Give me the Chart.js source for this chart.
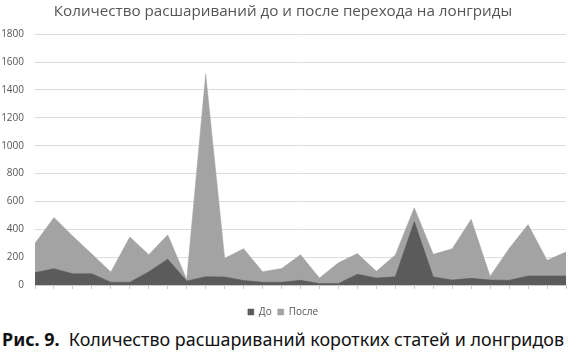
<!DOCTYPE html>
<html>
<head>
<meta charset="utf-8">
<script src="https://cdn.jsdelivr.net/npm/chart.js@4/dist/chart.umd.min.js"></script>
<style>
  html, body { margin: 0; padding: 0; background: #fff; }
  #wrap { position: relative; width: 577px; height: 358px; overflow: hidden; }
  #box { position: absolute; left: 0; top: 0; width: 577px; height: 327px; }
  #caption { position: absolute; left: 2px; top: 327px; font-family: "Noto Sans", sans-serif; font-size: 17.9px; color: #111; white-space: nowrap; }
  #caption b { font-weight: 700; }
</style>
</head>
<body>
<div id="wrap">
  <div id="box"><canvas id="c"></canvas></div>
  <div id="caption"><b>Рис. 9.</b>&nbsp; Количество расшариваний коротких статей и лонгридов</div>
</div>
<script>
const titleText = "Количество расшариваний до и после перехода на лонгриды";
const categories = ["1","2","3","4","5","6","7","8","9","10","11","12","13","14","15","16","17","18","19","20","21","22","23","24","25","26","27","28","29"];
const seriesBefore = [89, 117, 80, 80, 20, 20, 95, 185, 29, 60, 58, 32, 20, 20, 34, 10, 10, 77, 50, 60, 455, 58, 36, 48, 36, 34, 65, 65, 65];
const seriesAfter = [300, 484, 350, 222, 93, 345, 218, 360, 40, 1515, 192, 261, 96, 118, 218, 50, 160, 226, 98, 216, 554, 220, 260, 472, 62, 262, 434, 178, 237];
const yTicks = [0, 200, 400, 600, 800, 1000, 1200, 1400, 1600, 1800];

new Chart(document.getElementById('c'), {
  type: 'line',
  data: {
    labels: categories,
    datasets: [
      { label: 'До', data: seriesBefore, fill: 'origin', backgroundColor: '#5b5b5b', borderColor: '#5b5b5b', borderWidth: 0.5, pointRadius: 0, tension: 0 },
      { label: 'После', data: seriesAfter, fill: 'origin', backgroundColor: '#a3a3a3', borderColor: '#a3a3a3', borderWidth: 0.5, pointRadius: 0, tension: 0 }
    ]
  },
  options: {
    responsive: true,
    maintainAspectRatio: false,
    animation: false,
    layout: { padding: { left: 0, right: 11, top: 2, bottom: 0 } },
    plugins: {
      tooltip: { enabled: false },
      title: {
        display: true, text: titleText,
        color: '#555', font: { family: 'Open Sans', size: 15.2, weight: 'normal' },
        padding: { top: 1, bottom: 13 }
      },
      legend: {
        display: true, position: 'bottom',
        labels: { boxWidth: 6, boxHeight: 6, padding: 6, color: '#555', font: { family: 'Open Sans', size: 10 } }
      }
    },
    scales: {
      x: {
        type: 'category', offset: false,
        afterFit: (s) => { s.height += 12; },
        grid: { drawOnChartArea: false, drawTicks: true, tickLength: 4, color: '#c8c8c8' },
        border: { display: true, color: '#c8c8c8' },
        ticks: { display: false }
      },
      y: {
        min: 0, max: 1800,
        afterBuildTicks: (s) => { s.ticks = yTicks.map(v => ({ value: v })); },
        afterFit: (s) => { s.width = 35; },
        grid: { color: '#dcdcdc', drawTicks: false },
        border: { display: false },
        ticks: { color: '#555', font: { family: 'Open Sans', size: 10 }, padding: 11, callback: (v) => String(v) }
      }
    }
  }
});
</script>
</body>
</html>
